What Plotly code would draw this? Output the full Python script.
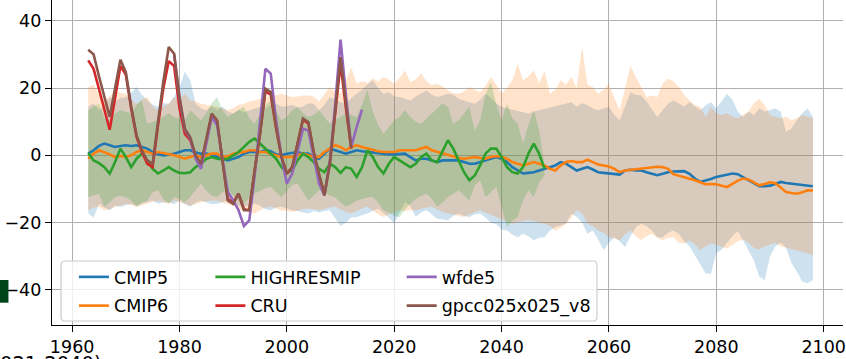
import plotly.graph_objects as go

# ---------------- data ----------------
years = list(range(1963, 2099))
years_hr = list(range(1963, 2049))
years_obs = list(range(1963, 2013))
years_wfde5 = list(range(1979, 2015))

cmip5_mean = [0.5, 1.5, 2.8, 3.5, 3.0, 2.5, 2.8, 3.0, 2.8, 3.0,
              2.5, 2.0, 1.0, 0.3, 0.0, 0.2, 0.5, 1.0, 1.5, 1.5,
              0.8, 0.5, 0.5, 0.2, -0.5, -1.0, -1.5, -1.0, -0.5, 0.5,
              1.0, 1.0, 1.0, 1.5, 1.2, 0.3, 0.0, 0.5, 0.8, 1.0,
              0.5, 0.5, -0.5, -1.0, 0.5, 2.0, 1.5, 1.0, 0.5, 1.0,
              1.5, 1.2, 1.0, 0.8, 0.5, 0.5, 0.3, 0.3, 0.5, 0.5,
              -0.5, -1.5, -1.0, -1.0, -1.5, -2.0, -1.5, -1.5, -1.5, -1.5,
              -2.0, -2.5, -2.5, -2.0, -1.5, -1.0, -0.5, -1.0, -2.0, -3.5,
              -4.5, -5.4, -5.2, -5.0, -4.5, -4.0, -3.5, -3.0, -2.0, -2.5,
              -3.5, -4.5, -4.0, -3.5, -4.2, -5.0, -5.2, -5.4, -5.5, -5.7,
              -4.5, -4.3, -4.5, -4.5, -5.0, -5.5, -5.9, -5.5, -5.0, -4.8,
              -4.8, -4.7, -5.5, -6.9, -7.9, -7.5, -7.0, -6.4, -6.0, -5.7,
              -5.4, -5.6, -6.5, -7.4, -8.5, -9.2, -9.2, -9.0, -8.5, -7.9,
              -8.2, -8.4, -8.5, -8.6, -8.8, -9.2]

cmip5_upper = [14.4, 15.5, 13.4, 15.0, 17.3, 16.0, 17.0, 17.3, 18.5, 20.3,
               18.0, 16.3, 15.0, 14.4, 15.5, 15.3, 17.5, 20.3, 24.8, 22.3,
               15.3, 14.0, 13.4, 14.5, 13.5, 14.4, 13.0, 12.4, 13.5, 12.8,
               13.4, 14.0, 14.4, 13.8, 15.0, 15.3, 14.5, 14.6, 15.0, 14.2,
               14.5, 15.5, 15.3, 13.4, 15.0, 17.3, 16.5, 15.8, 15.3, 17.0,
               18.3, 19.5, 21.0, 22.3, 20.0, 18.3, 18.8, 17.5, 17.3, 16.8,
               16.3, 17.5, 18.5, 19.3, 18.0, 17.3, 17.8, 18.3, 18.0, 16.8,
               16.3, 15.8, 15.3, 16.5, 18.3, 17.0, 15.5, 14.4, 14.0, 13.4,
               13.0, 12.8, 12.4, 13.0, 13.4, 13.8, 14.0, 14.4, 15.0, 15.3,
               15.8, 14.4, 15.5, 14.9, 14.0, 13.4, 14.0, 14.4, 12.0, 10.4,
               14.5, 18.8, 18.0, 17.8, 16.0, 13.5, 11.4, 13.5, 15.3, 16.3,
               15.5, 14.4, 15.8, 14.5, 13.4, 14.9, 15.8, 14.0, 16.0, 18.3,
               16.5, 13.0, 11.4, 13.0, 12.0, 14.0, 13.0, 13.5, 13.9, 13.0,
               6.9, 8.0, 10.5, 12.5, 13.9, 11.4]

cmip5_lower = [-17.3, -18.5, -14.4, -15.5, -16.3, -15.0, -15.3, -14.8, -14.4, -15.0,
               -14.4, -13.8, -13.4, -14.4, -14.0, -13.9, -14.5, -13.4, -14.5, -15.3,
               -14.0, -13.4, -14.0, -14.5, -14.4, -13.8, -13.4, -14.5, -15.0, -15.3,
               -14.8, -14.4, -15.0, -16.0, -16.3, -15.5, -15.3, -15.8, -16.3, -16.5,
               -17.0, -17.3, -16.5, -17.0, -16.5, -16.3, -18.5, -21.0, -20.0, -18.5,
               -18.3, -17.8, -17.3, -16.5, -15.8, -17.0, -18.5, -20.3, -17.0, -14.0,
               -15.0, -18.3, -17.0, -16.3, -17.5, -18.8, -19.0, -19.3, -18.0, -17.3,
               -18.0, -18.3, -17.5, -17.3, -18.5, -20.0, -20.5, -22.0, -22.3, -23.5,
               -24.3, -23.3, -24.0, -25.2, -24.5, -24.3, -22.3, -21.3, -20.8, -20.3,
               -17.3, -18.3, -20.0, -23.3, -22.3, -25.0, -28.2, -26.0, -24.3, -25.5,
               -27.2, -24.0, -21.3, -20.3, -21.0, -22.3, -24.3, -24.3, -23.0, -22.3,
               -23.3, -25.5, -27.0, -29.5, -32.2, -35.0, -35.2, -29.0, -28.0, -26.0,
               -24.0, -22.5, -25.3, -28.0, -31.2, -36.0, -37.1, -30.0, -27.0, -26.0,
               -27.5, -32.0, -34.5, -37.5, -38.0, -37.0]

cmip6_mean = [-1.0, 0.5, 1.5, 1.0, 0.3, -0.5, -0.2, -0.5, 0.0, 1.0,
              1.5, 1.0, 0.5, 1.0, 0.7, 0.5, 0.0, -0.5, -1.0, -0.5,
              0.0, -0.5, 0.0, 0.5, 0.5, -0.5, -0.3, 0.5, 0.8, 1.0,
              1.5, 1.5, 1.0, 1.0, 0.5, 0.0, -0.5, -0.5, -0.5, 0.0,
              0.5, 0.0, -0.5, -0.5, 1.0, 2.0, 3.0, 2.5, 1.5, 2.5,
              3.0, 2.5, 2.0, 1.5, 1.2, 1.0, 1.0, 1.0, 1.5, 1.5,
              1.5, 1.5, 2.0, 2.5, 1.5, 1.0, 0.5, 0.0, -0.3, -0.8,
              -1.0, -0.8, -0.5, -0.8, -1.0, -0.5, -0.2, -0.5, -1.0, -2.0,
              -2.5, -3.0, -2.5, -2.0, -2.5, -3.0, -4.0, -4.5, -3.0, -2.0,
              -1.7, -2.0, -2.0, -1.3, -2.0, -2.7, -3.0, -3.3, -4.0, -5.0,
              -4.5, -4.3, -4.0, -4.0, -3.7, -3.5, -3.4, -3.5, -4.0, -5.6,
              -6.0, -6.4, -7.0, -7.4, -8.0, -8.6, -8.5, -8.6, -9.0, -9.4,
              -8.5, -7.5, -6.9, -7.2, -8.0, -8.9, -8.5, -8.0, -8.3, -9.5,
              -10.9, -11.2, -11.4, -11.0, -10.4, -10.4]

cmip6_upper = [20.3, 21.0, 18.3, 16.3, 17.5, 19.3, 18.5, 18.3, 16.5, 15.3,
               16.5, 17.3, 14.5, 13.4, 14.5, 15.3, 17.3, 16.5, 18.3, 16.3,
               16.0, 15.3, 15.0, 14.8, 14.4, 14.0, 13.4, 14.0, 15.0, 15.3,
               16.0, 16.3, 16.8, 17.3, 17.5, 18.0, 18.3, 17.8, 17.3, 17.5,
               17.8, 17.8, 17.5, 16.0, 18.0, 20.3, 19.0, 18.3, 22.0, 26.2,
               21.3, 22.0, 21.5, 22.8, 22.0, 23.3, 22.5, 21.3, 23.0, 25.2,
               21.8, 22.5, 24.3, 22.0, 20.8, 21.3, 20.5, 19.3, 18.5, 18.3,
               19.0, 20.3, 19.5, 18.8, 20.5, 23.3, 21.0, 18.3, 20.0, 22.3,
               27.2, 22.3, 23.5, 25.2, 21.5, 25.0, 18.3, 19.5, 22.3, 21.0,
               23.3, 20.0, 32.2, 21.0, 20.3, 18.3, 19.5, 21.3, 17.0, 13.4,
               20.0, 26.7, 23.3, 20.5, 17.3, 17.8, 17.3, 21.3, 22.8, 22.0,
               20.3, 18.0, 16.3, 15.0, 14.4, 11.4, 14.4, 12.5, 12.0, 12.5,
               11.5, 11.0, 12.0, 13.0, 15.5, 16.8, 15.0, 12.0, 11.5, 11.0,
               11.5, 10.4, 11.0, 12.0, 11.5, 11.0]

cmip6_lower = [-16.3, -15.5, -15.3, -16.3, -16.0, -15.3, -15.0, -14.4, -14.8, -15.3,
               -14.8, -14.4, -13.8, -13.4, -14.0, -14.4, -13.4, -13.8, -14.4, -15.0,
               -14.5, -13.9, -13.6, -13.4, -13.5, -14.0, -14.4, -15.0, -16.0, -16.3,
               -16.8, -17.3, -16.5, -15.5, -15.3, -15.8, -16.3, -16.5, -16.8, -16.5,
               -16.0, -15.8, -16.0, -16.3, -16.0, -15.5, -15.3, -16.0, -16.8, -17.3,
               -16.5, -15.8, -15.3, -16.3, -17.5, -18.3, -17.5, -16.8, -16.3, -16.5,
               -16.3, -16.3, -16.0, -15.5, -15.3, -16.0, -16.8, -17.3, -17.5, -18.0,
               -18.3, -17.5, -16.8, -16.3, -17.0, -17.8, -18.3, -19.0, -19.8, -20.3,
               -19.8, -19.5, -19.3, -19.5, -20.0, -20.3, -21.0, -22.3, -21.5, -20.3,
               -18.5, -16.3, -17.3, -20.3, -21.0, -22.3, -23.0, -24.3, -24.8, -25.2,
               -23.5, -22.3, -24.0, -25.2, -24.0, -23.3, -24.5, -25.2, -24.5, -24.3,
               -26.0, -26.2, -25.2, -26.5, -28.2, -27.0, -26.2, -26.5, -27.2, -27.7,
               -26.5, -25.5, -25.0, -26.0, -27.5, -28.0, -27.0, -26.5, -26.0, -27.0,
               -27.5, -28.0, -28.3, -28.7, -29.0, -29.7]

highresmip_mean = [0.7, -1.5, -2.3, -3.5, -5.4, -2.0, 2.0, -0.5, -3.5, -1.0,
                   0.5, -1.5, -4.0, -5.4, -4.5, -3.5, -4.5, -5.2, -5.3, -5.0,
                   -3.5, -2.5, -1.0, -0.5, -1.0, -1.2, -1.0, 0.0, 1.0, 2.5,
                   4.0, 5.0, 3.5, 2.0, 0.5, -1.0, -3.5, -5.0, -4.5, -1.5,
                   0.5, -0.5, -2.0, -4.0, -5.0, -2.5, -3.5, -5.2, -3.5, -4.0,
                   -6.4, -3.5, 1.5, -0.5, -3.5, -5.4, -2.5, -0.5, -1.5, -2.5,
                   -3.5, -2.5, -0.5, 0.5, -1.5, -2.0, 1.5, 4.5, 2.0, -1.5,
                   -5.0, -7.4, -6.0, -3.0, 0.5, 2.0, 2.0, -0.5, -3.5, -5.0,
                   -5.4, -3.5, 0.5, 3.5, 0.5, -4.0]

highresmip_upper = [13.4, 14.5, 15.3, 11.0, 10.4, 12.5, 13.4, 12.8, 12.4, 15.0,
                    16.3, 9.4, 10.0, 10.4, 11.5, 12.4, 11.4, 11.0, 10.4, 13.4,
                    12.0, 10.4, 12.5, 15.5, 17.3, 13.5, 11.4, 12.5, 13.5, 14.4,
                    11.0, 9.4, 12.0, 15.0, 16.3, 13.0, 10.4, 11.5, 13.5, 14.4,
                    12.5, 11.4, 12.0, 13.4, 11.4, 9.4, 10.5, 11.5, 12.4, 12.0,
                    11.4, 15.0, 19.5, 13.0, 9.0, 6.4, 8.5, 10.4, 11.5, 13.4,
                    11.5, 10.0, 9.4, 11.0, 12.4, 14.0, 15.5, 14.4, 9.4, 10.4,
                    12.5, 14.4, 7.4, 10.4, 18.0, 21.8, 15.3, 10.4, 15.3, 11.0,
                    9.4, 3.5, 9.0, 13.4, 7.4, -3.0]

highresmip_lower = [-12.4, -11.8, -11.4, -15.3, -14.0, -12.4, -12.0, -12.4, -13.5, -15.3,
                    -14.0, -13.4, -11.0, -10.4, -13.0, -14.4, -12.4, -13.0, -13.9, -12.4,
                    -10.5, -8.4, -10.5, -12.0, -12.4, -11.0, -10.4, -12.0, -13.5, -14.4,
                    -12.5, -11.4, -10.5, -9.8, -9.4, -11.0, -12.4, -10.5, -8.8, -8.4,
                    -11.0, -13.4, -12.0, -10.4, -11.0, -12.0, -12.5, -14.0, -15.3, -14.5,
                    -13.4, -13.0, -12.5, -12.4, -14.0, -16.3, -17.0, -18.0, -18.3, -16.0,
                    -14.4, -13.0, -12.0, -11.4, -13.0, -15.3, -14.0, -12.4, -11.5, -10.4,
                    -12.0, -13.4, -9.0, -7.4, -12.4, -11.0, -9.4, -15.3, -21.3, -19.5,
                    -18.3, -13.4, -10.4, -12.4, -8.0, -6.0]

cru = [28.2, 25.7, 19.7, 13.3, 7.6, 17.0, 26.5, 24.0, 14.0, 5.5,
       1.0, -2.5, -3.5, 9.0, 20.0, 28.0, 26.5, 14.0, 6.4, 4.5,
       -0.5, -3.5, 4.0, 12.0, 10.0, -2.0, -13.0, -14.0, -11.4, -16.0,
       -16.3, -4.5, 6.4, 19.0, 18.0, 8.0, -0.5, -5.5, -3.5, 3.5,
       10.5, 9.5, 1.0, -6.0, -11.5, -2.5, 13.0, 27.3, 14.0, 2.0]

wfde5 = [30.0, 17.0, 7.7, 5.0, -1.0, -4.0, 3.5, 11.4, 8.9, -1.0,
         -10.9, -13.4, -16.3, -21.0, -19.3, -6.0, 10.0, 25.7, 24.3, 10.4,
         -0.5, -8.4, -5.4, 1.5, 7.9, 7.4, 0.0, -8.4, -11.9, -2.0,
         15.0, 34.4, 18.0, 2.5, 8.4, 13.6]

gpcc = [31.4, 30.0, 23.5, 17.0, 11.4, 20.0, 28.4, 24.7, 14.5, 6.0,
        1.5, -1.5, -2.5, 10.0, 22.0, 32.2, 30.2, 17.3, 7.9, 5.4,
        0.0, -2.5, 4.5, 12.4, 10.4, -1.5, -13.4, -14.4, -11.4, -16.3,
        -16.3, -4.5, 6.4, 19.8, 18.8, 8.4, -0.5, -5.4, -3.5, 3.5,
        10.9, 9.9, 1.0, -5.5, -11.9, -2.5, 14.4, 29.2, 15.6, 2.0]

x_ticks = [1960, 1980, 2000, 2020, 2040, 2060, 2080, 2100]
y_ticks = [-40, -20, 0, 20, 40]

# ---------------- styling ----------------
C_BLUE = "#1f77b4"
C_ORANGE = "#ff7f0e"
C_GREEN = "#2ca02c"
C_RED = "#d62728"
C_PURPLE = "#9467bd"
C_BROWN = "#8c564b"
FONT = "DejaVu Sans"
FS = 17.5
LW = 2.6

W, H = 846, 359
ML, MB = 52, 34
PW, PH = W - ML, H - MB


def px_x(p):
    return (p - ML) / PW


def px_y(p):
    return (PH - p) / PH


fig = go.Figure()


def add_band(x, lo, hi, rgb, alpha=0.22):
    fig.add_trace(go.Scatter(
        x=list(x) + list(x)[::-1], y=list(hi) + list(lo)[::-1],
        fill="toself", fillcolor=f"rgba({rgb},{alpha})",
        line=dict(width=0), mode="lines", hoverinfo="skip", showlegend=False))


add_band(years, cmip5_lower, cmip5_upper, "31,119,180")
add_band(years, cmip6_lower, cmip6_upper, "255,127,14")
add_band(years_hr, highresmip_lower, highresmip_upper, "44,160,44")


def add_line(x, y, name, color, legend):
    fig.add_trace(go.Scatter(x=x, y=y, name=name, mode="lines",
                             line=dict(color=color, width=LW),
                             legend=legend, legendgroup=name))


add_line(years, cmip5_mean, "CMIP5", C_BLUE, "legend")
add_line(years, cmip6_mean, "CMIP6", C_ORANGE, "legend")
add_line(years_hr, highresmip_mean, "HIGHRESMIP", C_GREEN, "legend2")
add_line(years_obs, cru, "CRU", C_RED, "legend2")
add_line(years_wfde5, wfde5, "wfde5", C_PURPLE, "legend3")
add_line(years_obs, gpcc, "gpcc025x025_v8", C_BROWN, "legend3")

axis_common = dict(
    showgrid=True, gridcolor="#b0b0b0", gridwidth=1.2,
    showline=True, linecolor="black", linewidth=1.3,
    ticks="outside", ticklen=6, tickwidth=1.3, tickcolor="black",
    tickfont=dict(family=FONT, size=FS, color="black"),
    zeroline=False, mirror=False, ticklabeloverflow="allow",
)

leg_common = dict(bgcolor="rgba(0,0,0,0)", borderwidth=0,
                  font=dict(family=FONT, size=FS, color="black"),
                  orientation="v", xanchor="left", yanchor="top",
                  tracegroupgap=3, itemwidth=30)

leg_top = px_y(259)
fig.update_layout(
    width=W, height=H,
    margin=dict(l=ML, r=0, t=0, b=MB, pad=0),
    paper_bgcolor="white", plot_bgcolor="white",
    font=dict(family=FONT, size=FS, color="black"),
    xaxis=dict(range=[1956.25, 2103.6], tickvals=x_ticks, **axis_common),
    yaxis=dict(range=[-50.4, 46.15], tickvals=y_ticks, **axis_common),
    legend=dict(x=px_x(116 - 42), y=leg_top, **leg_common),
    legend2=dict(x=px_x(253 - 42), y=leg_top, **leg_common),
    legend3=dict(x=px_x(445 - 42), y=leg_top, **leg_common),
    showlegend=True,
)

# legend frame (rounded, semi-transparent white)
x0, x1, y0, y1, r = px_x(61), px_x(599), px_y(321), px_y(261), 4
rx, ry = r / PW, r / PH
path = (f"M {x0+rx},{y0} L {x1-rx},{y0} Q {x1},{y0} {x1},{y0+ry} "
        f"L {x1},{y1-ry} Q {x1},{y1} {x1-rx},{y1} L {x0+rx},{y1} "
        f"Q {x0},{y1} {x0},{y1-ry} L {x0},{y0+ry} Q {x0},{y0} {x0+rx},{y0} Z")
fig.add_shape(type="path", path=path, xref="paper", yref="paper",
              fillcolor="rgba(255,255,255,0.8)",
              line=dict(color="#cccccc", width=1.2), layer="above")

# fragment of neighbouring panel (colour swatch) at the left edge
fig.add_shape(type="rect", xref="paper", yref="paper",
              x0=px_x(-2), x1=px_x(8.3), y0=px_y(302.7), y1=px_y(280),
              fillcolor="#00441b", line=dict(width=0), layer="above")

# fragment of neighbouring caption at the bottom-left
fig.add_annotation(text="(2021-2040)", xref="paper", yref="paper",
                   x=px_x(104), y=px_y(350.5), xanchor="right", yanchor="top",
                   showarrow=False, font=dict(family=FONT, size=19.5, color="black"))

fig.write_html("out.html",
               config={"displayModeBar": False},
               post_script="document.body.style.margin='0';"
                           "document.body.style.overflow='hidden';")
